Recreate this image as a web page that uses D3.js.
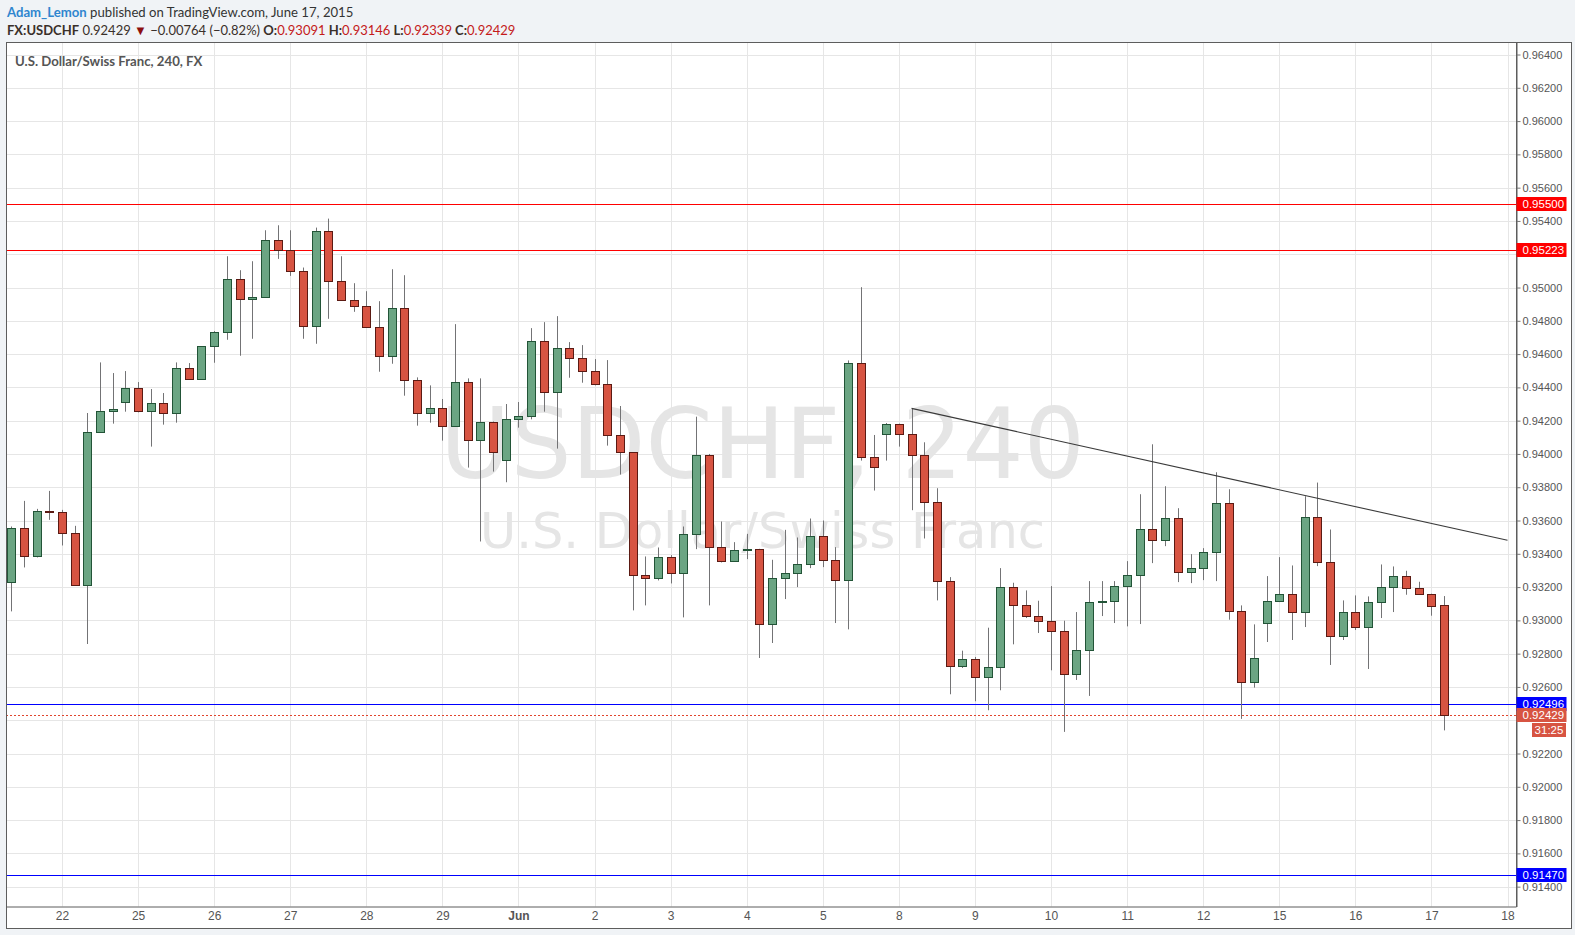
<!DOCTYPE html>
<html><head><meta charset="utf-8">
<script src="https://cdn.jsdelivr.net/npm/d3@7"></script>
<style>
html,body{margin:0;padding:0;background:#f0f3f6;}
svg{display:block;}
</style></head>
<body>
<svg id="chart" width="1575" height="935"></svg>
<script>
// ---- data (4h bars, USDCHF, May 21 - Jun 17 2015) ----
const opens = [0.93230,0.93554,0.93384,0.93656,0.93650,0.93524,0.93212,0.94130,0.94256,0.94310,
0.94394,0.94256,0.94304,0.94244,0.94514,0.94448,0.94646,0.94730,0.95054,0.94928,
0.94946,0.95288,0.95228,0.95102,0.94766,0.95342,0.95042,0.94922,0.94886,0.94760,
0.94586,0.94874,0.94442,0.94244,0.94274,0.94166,0.94430,0.94082,0.94190,0.93962,
0.94208,0.94226,0.94676,0.94370,0.94634,0.94574,0.94496,0.94418,0.94112,0.94010,
0.93272,0.93254,0.93380,0.93284,0.93518,0.93992,0.93440,0.93354,0.93422,0.93428,
0.92978,0.93254,0.93284,0.93338,0.93506,0.93362,0.93242,0.94544,0.93980,0.94118,
0.94180,0.94118,0.93992,0.93710,0.93236,0.92726,0.92768,0.92660,0.92720,0.93200,
0.93092,0.93026,0.92996,0.92936,0.92678,0.92822,0.93110,0.93116,0.93206,0.93272,
0.93548,0.93482,0.93614,0.93290,0.93314,0.93410,0.93704,0.93054,0.92632,0.92986,
0.93118,0.93156,0.93052,0.93622,0.93352,0.92908,0.93052,0.92962,0.93112,0.93202,
0.93268,0.93196,0.93160,0.93091];
const highs = [0.93564,0.93718,0.93670,0.93778,0.93664,0.93568,0.94246,0.94550,0.94486,0.94498,
0.94432,0.94390,0.94366,0.94550,0.94546,0.94646,0.94738,0.95188,0.95104,0.95158,
0.95344,0.95374,0.95344,0.95120,0.95360,0.95414,0.95188,0.95026,0.94978,0.94918,
0.95110,0.95074,0.94460,0.94412,0.94330,0.94780,0.94454,0.94454,0.94195,0.94300,
0.94312,0.94756,0.94792,0.94828,0.94672,0.94654,0.94570,0.94564,0.94288,0.94010,
0.93384,0.93438,0.93392,0.93564,0.94224,0.94000,0.93594,0.93470,0.93520,0.93430,
0.93364,0.93544,0.93498,0.93612,0.93600,0.93440,0.94562,0.95002,0.94114,0.94186,
0.94182,0.94274,0.94070,0.93794,0.93260,0.92818,0.92780,0.92956,0.93314,0.93226,
0.93180,0.93118,0.93206,0.92998,0.93050,0.93236,0.93236,0.93236,0.93356,0.93758,
0.94058,0.93806,0.93674,0.93398,0.93434,0.93890,0.93788,0.93090,0.92976,0.93266,
0.93380,0.93330,0.93746,0.93828,0.93546,0.93120,0.93150,0.93144,0.93336,0.93324,
0.93298,0.93232,0.93160,0.93146];
const lows = [0.93054,0.93318,0.93378,0.93604,0.93450,0.93210,0.92858,0.94128,0.94182,0.94254,
0.94250,0.94044,0.94176,0.94188,0.94448,0.94448,0.94548,0.94686,0.94590,0.94692,
0.94946,0.95172,0.95070,0.94692,0.94662,0.94812,0.94920,0.94854,0.94760,0.94494,
0.94542,0.94350,0.94170,0.94188,0.94080,0.94166,0.93918,0.93474,0.93894,0.93830,
0.94158,0.94208,0.94254,0.94032,0.94458,0.94428,0.94412,0.94050,0.93876,0.93060,
0.93090,0.93240,0.93222,0.93018,0.93428,0.93090,0.93348,0.93354,0.93368,0.92774,
0.92864,0.93128,0.93200,0.93314,0.93320,0.92984,0.92946,0.93960,0.93780,0.93960,
0.94044,0.93662,0.93492,0.93120,0.92556,0.92714,0.92514,0.92460,0.92580,0.92856,
0.93014,0.92924,0.92700,0.92330,0.92642,0.92546,0.93026,0.92984,0.92964,0.92978,
0.93344,0.93446,0.93230,0.93224,0.93242,0.93236,0.93004,0.92408,0.92596,0.92870,
0.93110,0.92882,0.92960,0.93326,0.92732,0.92882,0.92942,0.92708,0.93014,0.93050,
0.93154,0.93154,0.93028,0.92339];
const closes = [0.93554,0.93384,0.93656,0.93650,0.93524,0.93212,0.94130,0.94256,0.94268,0.94394,
0.94256,0.94304,0.94244,0.94514,0.94448,0.94646,0.94730,0.95054,0.94928,0.94946,
0.95288,0.95228,0.95102,0.94766,0.95342,0.95042,0.94922,0.94886,0.94760,0.94586,
0.94874,0.94442,0.94244,0.94274,0.94166,0.94430,0.94082,0.94190,0.94010,0.94208,
0.94226,0.94676,0.94370,0.94634,0.94574,0.94496,0.94418,0.94112,0.94010,0.93272,
0.93254,0.93380,0.93284,0.93518,0.93992,0.93440,0.93354,0.93422,0.93428,0.92978,
0.93254,0.93284,0.93338,0.93506,0.93362,0.93242,0.94544,0.93980,0.93920,0.94180,
0.94118,0.93992,0.93710,0.93236,0.92726,0.92768,0.92660,0.92720,0.93200,0.93092,
0.93026,0.92996,0.92936,0.92678,0.92822,0.93110,0.93116,0.93206,0.93272,0.93548,
0.93482,0.93614,0.93290,0.93314,0.93410,0.93704,0.93054,0.92632,0.92776,0.93118,
0.93156,0.93052,0.93622,0.93352,0.92908,0.93052,0.92962,0.93112,0.93202,0.93268,
0.93196,0.93160,0.93088,0.92429];

const dayLabels = ["22","25","26","27","28","29","Jun","2","3","4","5","8","9","10","11","12","15","16","17","18"];
const dayFirstBar = [4,10,16,22,28,34,40,46,52,58,64,70,76,82,88,94,100,106,112,118];
const priceTicks = [0.914,0.916,0.918,0.920,0.922,0.924,0.926,0.928,0.930,0.932,0.934,0.936,0.938,
  0.940,0.942,0.944,0.946,0.948,0.950,0.952,0.954,0.956,0.958,0.960,0.962,0.964];
const resistanceLevels = [0.95500, 0.95223];
const supportLevels = [0.92496, 0.91470];
const lastPrice = 0.92429;
const countdown = "31:25";
const trendBars = [71, 118];
const trendValues = [0.94274, 0.93481];

// ---- layout ----
const L = 6, T = 42, R = 1516.5, B = 906.5, FR = 1571, FB = 928;
const svg = d3.select("#chart");
const x = d3.scaleLinear().domain([0, 118]).range([11.3, 1507.5]);
const y = d3.scaleLinear().domain([0.912808, 0.964734]).range([B, T + 0.3]);
const crisp = v => Math.round(v) + 0.5;

// frame
svg.append("rect").attr("x", L + 0.5).attr("y", T + 0.5).attr("width", FR - L).attr("height", FB - T)
  .attr("fill", "#fff").attr("stroke", "#5d5d5d");

// header
const hdr = svg.append("g").attr("font-family", "Lato, 'Open Sans', sans-serif");
const h1 = hdr.append("text").attr("x", 7).attr("y", 16.5).attr("fill", "#333").attr("font-size", 13.15);
h1.append("tspan").attr("fill", "#2f86cf").attr("font-weight", 700).text("Adam_Lemon");
h1.append("tspan").text(" published on TradingView.com, June 17, 2015");
const h2 = hdr.append("text").attr("x", 7).attr("y", 34.5).attr("fill", "#3a302a").attr("font-size", 13);
const red = "#c41a1a";
[["FX:USDCHF", null, 700], [" 0.92429 ", null, 400], ["▼", "#8c0f0f", 400], [" −0.00764 (−0.82%) ", null, 400],
 ["O:", null, 700], ["0.93091", red, 400], [" H:", null, 700], ["0.93146", red, 400],
 [" L:", null, 700], ["0.92339", red, 400], [" C:", null, 700], ["0.92429", red, 400]]
 .forEach(([t, c, w]) => { const s = h2.append("tspan").attr("font-weight", w).text(t); if (c) s.attr("fill", c); });

// grid
const grid = svg.append("g").attr("stroke", "#e6e6e6").attr("stroke-width", 1);
grid.selectAll("line.h").data(priceTicks).join("line").attr("class", "h")
  .attr("x1", L + 1).attr("x2", R).attr("y1", d => crisp(y(d))).attr("y2", d => crisp(y(d)));
grid.selectAll("line.v").data(dayFirstBar).join("line").attr("class", "v")
  .attr("y1", T + 1).attr("y2", B).attr("x1", d => crisp(x(d))).attr("x2", d => crisp(x(d)));

// watermark
const wm = svg.append("g").attr("font-family", "'DejaVu Sans', sans-serif").attr("fill", "#e5e5e5").attr("text-anchor", "middle");
wm.append("text").attr("x", 762.5).attr("y", 478).attr("font-size", 98)
  .attr("textLength", 645).attr("lengthAdjust", "spacingAndGlyphs").text("USDCHF, 240");
wm.append("text").attr("x", 762.5).attr("y", 548).attr("font-size", 50)
  .attr("textLength", 565).attr("lengthAdjust", "spacingAndGlyphs").text("U.S. Dollar/Swiss Franc");

// symbol label
svg.append("text").attr("x", 15).attr("y", 65.5).attr("font-family", "Lato, 'Open Sans', sans-serif")
  .attr("font-weight", 700).attr("font-size", 13.2).attr("fill", "#555").text("U.S. Dollar/Swiss Franc, 240, FX");

// clip
svg.append("clipPath").attr("id", "plot").append("rect").attr("x", L + 1).attr("y", T + 1).attr("width", R - L - 1).attr("height", B - T - 1);
const plot = svg.append("g").attr("clip-path", "url(#plot)");

// level lines
plot.selectAll("line.res").data(resistanceLevels).join("line").attr("class", "res")
  .attr("x1", L).attr("x2", R).attr("y1", d => crisp(y(d))).attr("y2", d => crisp(y(d))).attr("stroke", "#ff0000");
plot.selectAll("line.sup").data(supportLevels).join("line").attr("class", "sup")
  .attr("x1", L).attr("x2", R).attr("y1", d => crisp(y(d))).attr("y2", d => crisp(y(d))).attr("stroke", "#0000ff");
plot.append("line").attr("x1", L).attr("x2", R).attr("y1", crisp(y(lastPrice))).attr("y2", crisp(y(lastPrice)))
  .attr("stroke", "#e0452e").attr("stroke-dasharray", "2,2");

// candles
const bars = opens.map((o, i) => ({ i, o, h: highs[i], l: lows[i], c: closes[i] }));
const cg = plot.append("g");
const cand = cg.selectAll("g").data(bars).join("g");
cand.append("line")
  .attr("x1", d => crisp(x(d.i))).attr("x2", d => crisp(x(d.i)))
  .attr("y1", d => y(d.h)).attr("y2", d => y(d.l))
  .attr("stroke", "#737375").attr("stroke-width", 1);
cand.append("rect")
  .attr("x", d => Math.round(x(d.i)) - 3.5).attr("width", 8)
  .attr("y", d => crisp(y(Math.max(d.o, d.c))))
  .attr("height", d => Math.max(1, crisp(y(Math.min(d.o, d.c))) - crisp(y(Math.max(d.o, d.c)))))
  .attr("fill", d => d.c >= d.o ? "#6ba583" : "#d75442")
  .attr("stroke", d => d.c >= d.o ? "#225437" : "#5b1a13").attr("stroke-width", 1);

// trend line
plot.append("line").attr("x1", x(trendBars[0])).attr("y1", y(trendValues[0]))
  .attr("x2", x(trendBars[1])).attr("y2", y(trendValues[1])).attr("stroke", "#3a3a3a").attr("stroke-width", 1.1);

// badge positions (tick labels hidden beneath them, as in the source)
const badgeValues = resistanceLevels.concat(supportLevels, [lastPrice]);
const hiddenTick = t => badgeValues.some(v => Math.abs(y(v) - y(t)) < 7.5) && Math.abs(y(t) - y(supportLevels[1])) > 8;

// price axis
const yAxis = d3.axisRight(y).tickValues(priceTicks).tickFormat(d3.format(".5f")).tickSize(4).tickSizeOuter(0).tickPadding(2);
const ya = svg.append("g").attr("transform", `translate(${R},0)`).call(yAxis);
ya.select(".domain").attr("stroke", "#5d5d5d");
ya.selectAll(".tick line").attr("stroke", "#777");
ya.selectAll(".tick text").attr("font-family", "'Liberation Sans', Arial, sans-serif").attr("font-size", 11).attr("fill", "#555")
  .filter(d => hiddenTick(d)).remove();

// time axis
const xAxis = d3.axisBottom(x).tickValues(dayFirstBar).tickFormat((d, i) => dayLabels[i]).tickSize(0).tickSizeOuter(0).tickPadding(4.5);
const xa = svg.append("g").attr("transform", `translate(0,${B})`).call(xAxis);
xa.select(".domain").attr("stroke", "#5d5d5d").attr("d", `M${L},0.5H${R}`);
xa.selectAll(".tick text").attr("font-family", "'Liberation Sans Narrow', 'Liberation Sans', Arial, sans-serif")
  .attr("font-size", 12).attr("fill", "#555").attr("font-weight", (d, i) => dayLabels[i] === "Jun" ? 700 : 400);
svg.append("line").attr("x1", R).attr("x2", R).attr("y1", T).attr("y2", B + 0.5).attr("stroke", "#5d5d5d");

// badges
function badge(v, text, color, x0, w) {
  const cy = y(v);
  svg.append("rect").attr("x", x0).attr("y", Math.round(cy - 7)).attr("width", w).attr("height", 14).attr("fill", color);
  svg.append("text").attr("x", x0 + 6).attr("y", Math.round(cy - 7) + 11).attr("font-family", "'Liberation Sans', Arial, sans-serif")
    .attr("font-size", 11.5).attr("fill", "#fff").text(text);
}
resistanceLevels.forEach(v => badge(v, d3.format(".5f")(v), "#ff0000", R, 50));
supportLevels.forEach(v => badge(v, d3.format(".5f")(v), "#0000ff", R, 50));
badge(lastPrice, d3.format(".5f")(lastPrice), "#d75442", R, 50);
// countdown
{
  const cy = y(lastPrice) + 14.5;
  svg.append("rect").attr("x", 1532).attr("y", Math.round(cy - 7)).attr("width", 34).attr("height", 14).attr("fill", "#d75442");
  svg.append("text").attr("x", 1549).attr("y", Math.round(cy - 7) + 11).attr("text-anchor", "middle")
    .attr("font-family", "'Liberation Sans', Arial, sans-serif").attr("font-size", 11.5).attr("fill", "#fff").text(countdown);
}
</script>
</body></html>
